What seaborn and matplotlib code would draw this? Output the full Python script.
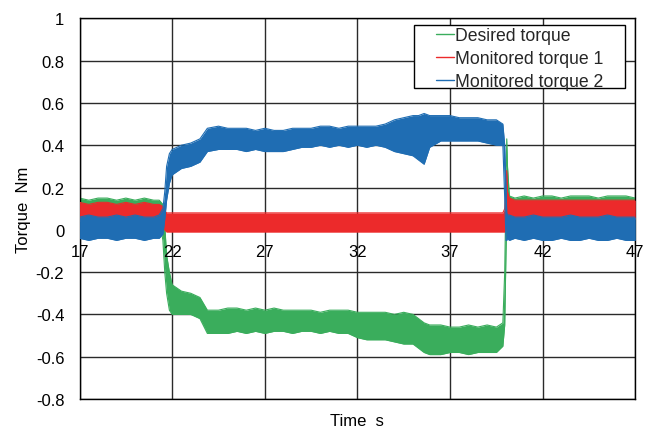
import matplotlib
matplotlib.use("Agg")
import matplotlib.pyplot as plt
import seaborn as sns
from matplotlib.lines import Line2D
from matplotlib.patches import Rectangle

# ---------------- data ----------------
time_s = [17.0, 17.5, 18.0, 18.5, 19.0, 19.5, 20.0, 20.5, 21.0,
          21.3, 21.5, 21.6, 21.7, 21.85, 22.0,
          22.5, 23.0, 23.5, 23.9,
          24.5, 25.0, 25.5, 26.0, 26.5, 27.0, 27.5, 28.0, 28.5, 29.0, 29.5,
          30.0, 30.5, 31.0, 31.5, 32.0, 32.5, 33.0, 33.5, 34.0, 34.5, 35.0,
          35.3, 35.6, 35.9,
          36.5, 37.0, 37.5, 38.0, 38.5, 39.0, 39.5,
          39.85, 39.95, 40.02, 40.06, 40.1, 40.2,
          40.5, 41.0, 41.5, 42.0, 42.5, 43.0, 43.5, 44.0, 44.5, 45.0, 45.5, 46.0, 46.5, 47.0]

# Desired torque: upper / lower envelope of the noisy band
desired_upper = [0.15, 0.14, 0.15, 0.15, 0.14, 0.15, 0.14, 0.15, 0.14,
                 0.14, 0.12, 0.02, -0.12, -0.20, -0.26,
                 -0.29, -0.30, -0.32, -0.38,
                 -0.38, -0.37, -0.37, -0.38, -0.37, -0.38, -0.37, -0.38, -0.38, -0.38, -0.38,
                 -0.39, -0.38, -0.38, -0.38, -0.39, -0.39, -0.39, -0.39, -0.40, -0.39, -0.40,
                 -0.42, -0.44, -0.45,
                 -0.45, -0.46, -0.46, -0.45, -0.46, -0.45, -0.46,
                 -0.44, -0.20, 0.20, 0.43, 0.30, 0.16,
                 0.15, 0.16, 0.15, 0.16, 0.16, 0.15, 0.16, 0.16, 0.16, 0.15, 0.16, 0.16, 0.16, 0.15]
desired_lower = [0.05, 0.05, 0.05, 0.05, 0.05, 0.05, 0.05, 0.05, 0.05,
                 0.05, -0.05, -0.20, -0.30, -0.38, -0.40,
                 -0.40, -0.40, -0.42, -0.49,
                 -0.49, -0.49, -0.48, -0.49, -0.48, -0.49, -0.48, -0.48, -0.49, -0.48, -0.48,
                 -0.49, -0.48, -0.49, -0.49, -0.51, -0.52, -0.52, -0.52, -0.53, -0.54, -0.54,
                 -0.56, -0.58, -0.59,
                 -0.59, -0.58, -0.58, -0.59, -0.58, -0.58, -0.58,
                 -0.55, -0.45, -0.10, 0.05, 0.06, 0.06,
                 0.06, 0.06, 0.06, 0.06, 0.06, 0.06, 0.06, 0.06, 0.06, 0.06, 0.06, 0.06, 0.06, 0.06]

# Monitored torque 1
mon1_upper = [0.13, 0.12, 0.13, 0.13, 0.12, 0.13, 0.12, 0.13, 0.12,
              0.12, 0.11, 0.09, 0.08, 0.08, 0.08,
              0.08, 0.08, 0.08, 0.08,
              0.08, 0.08, 0.08, 0.08, 0.08, 0.08, 0.08, 0.08, 0.08, 0.08, 0.08,
              0.08, 0.08, 0.08, 0.08, 0.08, 0.08, 0.08, 0.08, 0.08, 0.08, 0.08,
              0.08, 0.08, 0.08,
              0.08, 0.08, 0.08, 0.08, 0.08, 0.08, 0.08,
              0.08, 0.10, 0.20, 0.28, 0.18, 0.15,
              0.14, 0.14, 0.14, 0.14, 0.14, 0.14, 0.14, 0.14, 0.14, 0.14, 0.14, 0.14, 0.14, 0.14]
mon1_lower = [0.04, 0.04, 0.04, 0.04, 0.04, 0.04, 0.04, 0.04, 0.04,
              0.04, 0.02, 0.00, -0.01, -0.01, -0.01,
              -0.01, -0.01, -0.01, -0.01,
              -0.01, -0.01, -0.01, -0.01, -0.01, -0.01, -0.01, -0.01, -0.01, -0.01, -0.01,
              -0.01, -0.01, -0.01, -0.01, -0.01, -0.01, -0.01, -0.01, -0.01, -0.01, -0.01,
              -0.01, -0.01, -0.01,
              -0.01, -0.01, -0.01, -0.01, -0.01, -0.01, -0.01,
              -0.01, -0.01, 0.00, 0.05, 0.06, 0.05,
              0.05, 0.05, 0.05, 0.05, 0.05, 0.05, 0.05, 0.05, 0.05, 0.05, 0.05, 0.05, 0.05, 0.05]

# Monitored torque 2
mon2_upper = [0.06, 0.07, 0.06, 0.06, 0.07, 0.06, 0.07, 0.06, 0.06,
              0.07, 0.10, 0.18, 0.30, 0.36, 0.38,
              0.40, 0.41, 0.43, 0.48,
              0.49, 0.48, 0.48, 0.48, 0.47, 0.48, 0.47, 0.47, 0.48, 0.48, 0.48,
              0.49, 0.49, 0.48, 0.49, 0.49, 0.49, 0.49, 0.50, 0.52, 0.53, 0.54,
              0.54, 0.55, 0.54,
              0.54, 0.54, 0.53, 0.53, 0.53, 0.52, 0.52,
              0.50, 0.40, 0.20, 0.08, 0.07, 0.07,
              0.06, 0.06, 0.07, 0.06, 0.06, 0.06, 0.07, 0.06, 0.06, 0.06, 0.07, 0.06, 0.06, 0.06]
mon2_lower = [-0.04, -0.05, -0.04, -0.04, -0.05, -0.04, -0.04, -0.05, -0.04,
              -0.04, -0.02, 0.05, 0.14, 0.22, 0.26,
              0.29, 0.30, 0.32, 0.37,
              0.38, 0.38, 0.38, 0.37, 0.38, 0.37, 0.37, 0.37, 0.38, 0.39, 0.39,
              0.40, 0.39, 0.40, 0.39, 0.40, 0.39, 0.40, 0.39, 0.37, 0.36, 0.35,
              0.33, 0.31, 0.39,
              0.42, 0.42, 0.42, 0.42, 0.42, 0.41, 0.40,
              0.40, 0.15, -0.05, -0.05, -0.04, -0.05,
              -0.04, -0.05, -0.04, -0.05, -0.05, -0.04, -0.05, -0.05, -0.04, -0.05, -0.05, -0.04, -0.05, -0.05]

series_names = ["Desired torque", "Monitored torque 1", "Monitored torque 2"]
series_colors = ["#3aad5c", "#ec2a2b", "#1f6db3"]

x_ticks = [17, 22, 27, 32, 37, 42, 47]
x_tick_labels = ["17", "22", "27", "32", "37", "42", "47"]
y_ticks = [-0.8, -0.6, -0.4, -0.2, 0.0, 0.2, 0.4, 0.6, 0.8, 1.0]
y_tick_labels = ["-0.8", "-0.6", "-0.4", "-0.2", "0", "0.2", "0.4", "0.6", "0.8", "1"]

x_title = "Time  s"
y_title = "Torque  Nm"

# ---------------- plotting ----------------
sns.set_theme(style="white")
plt.rcParams['font.family'] = ['Liberation Sans', 'DejaVu Sans']

fig = plt.figure(figsize=(6.6, 4.31), dpi=100)
ax = fig.add_axes([0.1205, 0.0719, 0.8421, 0.8833])
ax.set_xlim(17, 47)
ax.set_ylim(-0.8, 1.0)
ax.set_axisbelow(True)
ax.grid(True, color="#2a2a2a", linewidth=1.0)
ax.set_xticks(x_ticks)
ax.set_yticks(y_ticks, labels=y_tick_labels)
ax.tick_params(axis="x", length=0, labelbottom=False)
ax.tick_params(axis="y", length=0, pad=11, labelsize=12, labelcolor="black")
for sp in ax.spines.values():
    sp.set_visible(True)
    sp.set_color("black")
    sp.set_linewidth(1.0)

bands = [(desired_upper, desired_lower), (mon1_upper, mon1_lower), (mon2_upper, mon2_lower)]
for i, (name, color, (up, lo)) in enumerate(zip(series_names, series_colors, bands)):
    z = 2 + i
    ax.fill_between(time_s, lo, up, color=color, linewidth=0, zorder=z)
    sns.lineplot(x=time_s, y=up, color=color, linewidth=0.8, ax=ax, zorder=z)
    sns.lineplot(x=time_s, y=lo, color=color, linewidth=0.8, ax=ax, zorder=z)

# x tick labels sit on the y = 0 line
sec = ax.secondary_xaxis(0.8 / 1.8)
sec.set_xticks(x_ticks, labels=x_tick_labels)
sec.tick_params(axis="x", length=0, pad=10, labelsize=12, labelcolor="black")
for sp in sec.spines.values():
    sp.set_visible(False)
sec.set_zorder(6)

ax.set_xlabel("")
ax.set_ylabel(y_title, fontsize=12, labelpad=3, color="black")
fig.text(0.5415, 0.022, x_title, fontsize=12, color="black", ha="center", va="center")

# legend
ax.add_patch(Rectangle((0.6018, 0.8169), 0.3796, 0.1655, transform=ax.transAxes,
                       facecolor="white", edgecolor="black", linewidth=1.0, zorder=8))
handles = [Line2D([], [], color=c, linewidth=1.0) for c in series_colors]
leg = ax.legend(handles, series_names, loc="upper left", bbox_to_anchor=(0.6414, 0.976),
                borderaxespad=0, borderpad=0, frameon=False, fontsize=12.7,
                handlelength=1.0, handletextpad=0.05, labelspacing=0.32)
leg.set_zorder(9)

fig.savefig("out.png", dpi=100)
